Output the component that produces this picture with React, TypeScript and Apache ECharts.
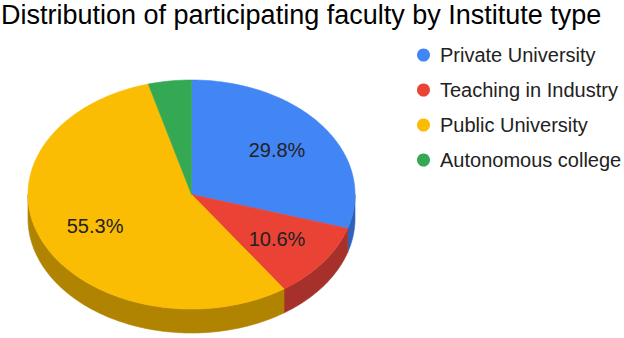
import React, { useEffect, useRef } from "react";
import * as echarts from "echarts";

const titleText = "Distribution of participating faculty by Institute type";
const categories = ["Private University", "Teaching in Industry", "Public University", "Autonomous college"];
const counts = [14, 5, 26, 2];
const topColors = ["#4285f4", "#ea4335", "#fbbc04", "#34a853"];
const sideColors = ["#2f62b8", "#a6302a", "#b08400", "#237a3c"];

const FONT = '"Liberation Sans", Arial, sans-serif';
const CX = 191.5;
const CY = 194.5;
const RX = 163.5;
const RY = 114.5;
const DEPTH = 24;
const LABEL_F = 0.65;
const MIN_LABEL_PCT = 5;

function pt(a: number, dy = 0, f = 1): number[] {
  return [CX + RX * f * Math.sin(a), CY - RY * f * Math.cos(a) + dy];
}

function arcPoints(a0: number, a1: number, dy = 0): number[][] {
  const n = Math.max(2, Math.ceil(((a1 - a0) * 180) / Math.PI));
  const out: number[][] = [];
  for (let k = 0; k <= n; k++) out.push(pt(a0 + ((a1 - a0) * k) / n, dy));
  return out;
}

export default function App() {
  const ref = useRef<HTMLDivElement>(null);
  useEffect(() => {
    if (!ref.current) return;
    const chart = echarts.init(ref.current, null, { renderer: "svg" });
    const total = counts.reduce((s, v) => s + v, 0);
    const starts: number[] = [];
    let acc = 0;
    counts.forEach((v) => {
      starts.push(acc / total);
      acc += v;
    });

    const renderItem = (i: number) => (params: any, api: any) => {
      const f0 = api.value(0) as number;
      const f1 = api.value(1) as number;
      const a0 = f0 * Math.PI * 2;
      const a1 = f1 * Math.PI * 2;
      const children: any[] = [];
      const s = Math.max(a0, Math.PI / 2);
      const e = Math.min(a1, (Math.PI * 3) / 2);
      if (e > s) {
        const topArc = arcPoints(s, e);
        const botArc = arcPoints(s, e, DEPTH).reverse();
        children.push({
          type: "polygon",
          shape: { points: topArc.concat(botArc) },
          style: { fill: sideColors[i], stroke: sideColors[i], lineWidth: 0.6 },
        });
      }
      children.push({
        type: "polygon",
        shape: { points: [[CX, CY]].concat(arcPoints(a0, a1)) },
        style: { fill: topColors[i], stroke: topColors[i], lineWidth: 0.6 },
      });
      const pct = (f1 - f0) * 100;
      if (pct >= MIN_LABEL_PCT) {
        const mid = (a0 + a1) / 2;
        const p = pt(mid, 0, LABEL_F);
        children.push({
          type: "text",
          z2: 10,
          style: {
            x: p[0],
            y: p[1],
            text: pct.toFixed(1) + "%",
            fill: "#222222",
            fontSize: 20,
            fontFamily: FONT,
            align: "center",
            verticalAlign: "middle",
          },
        });
      }
      return { type: "group", children };
    };

    const series = categories.map((name, i) => ({
      type: "custom",
      name,
      coordinateSystem: "none",
      silent: true,
      itemStyle: { color: topColors[i] },
      data: [[starts[i], starts[i] + counts[i] / total]],
      renderItem: renderItem(i),
    }));

    chart.setOption({
      animation: false,
      backgroundColor: "#ffffff",
      color: topColors,
      title: {
        text: titleText,
        left: 1,
        top: 0,
        padding: 0,
        textStyle: { fontSize: 27, lineHeight: 29, fontWeight: "normal", color: "#000000", fontFamily: FONT },
      },
      legend: {
        orient: "vertical",
        left: 412,
        top: 38,
        icon: "circle",
        itemWidth: 23,
        itemHeight: 13,
        itemGap: 11,
        selectedMode: false,
        data: categories,
        textStyle: { fontSize: 20, lineHeight: 24, color: "#222222", fontFamily: FONT },
      },
      series,
    });
    return () => chart.dispose();
  }, []);
  return (
    <div
      ref={ref}
      style={{ position: "fixed", left: 0, top: 0, width: 624, height: 338, background: "#fff" }}
    />
  );
}
